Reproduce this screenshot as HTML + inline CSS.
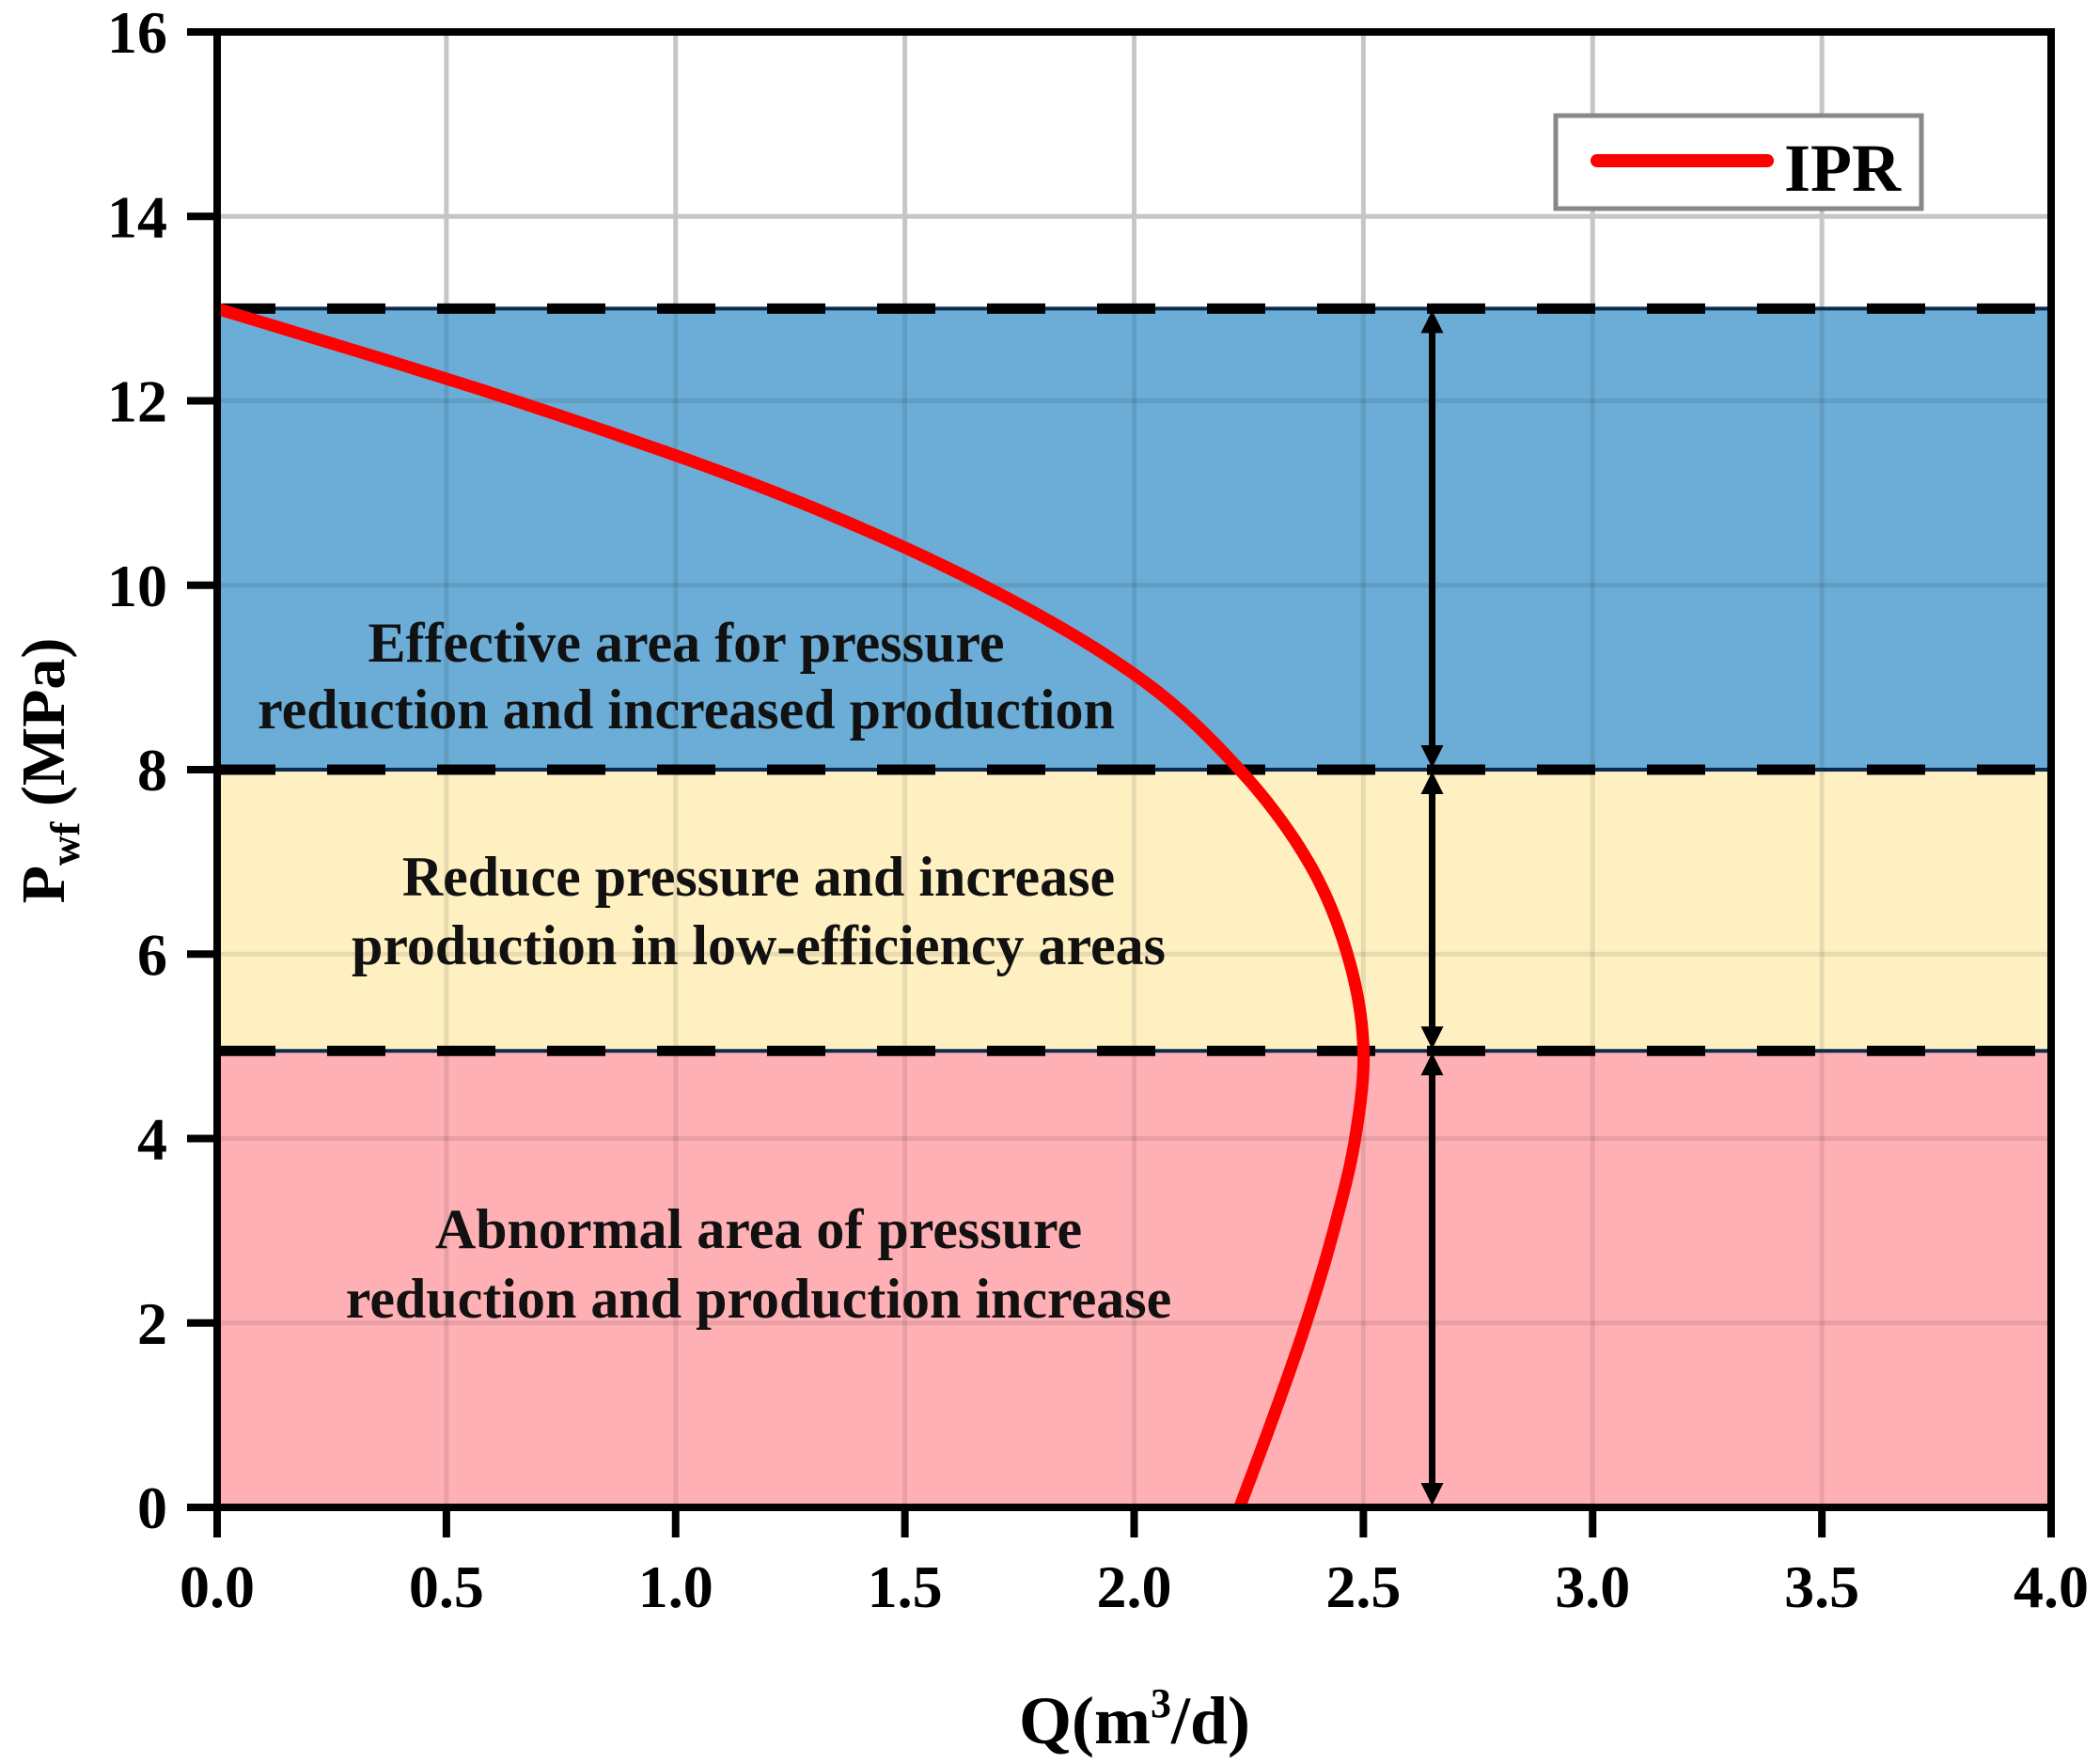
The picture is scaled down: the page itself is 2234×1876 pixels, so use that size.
<!DOCTYPE html>
<html><head><meta charset="utf-8"><style>
html,body{margin:0;padding:0;background:#fff;}
svg{display:block;font-family:"Liberation Serif",serif;font-weight:bold;}
</style></head><body>
<svg id="chart" width="2234" height="1876" viewBox="0 0 2234 1876"></svg>
<script>
const xTicks=[0,0.5,1.0,1.5,2.0,2.5,3.0,3.5,4.0];
const xTickLabels=["0.0","0.5","1.0","1.5","2.0","2.5","3.0","3.5","4.0"];
const yTicks=[0,2,4,6,8,10,12,14,16];
const yTickLabels=["0","2","4","6","8","10","12","14","16"];
const regionBounds=[0,4.95,8,13];
const regionColors=["#ffb0b5","#fff0c2","#6badd6"];
const regionNames=["abnormal-region","low-efficiency-region","effective-region"];
const iprP=[0,1,2,3,4,5,6,7,8,9,10,11,12,13];
const iprQ=[2.23,2.305,2.375,2.435,2.482,2.5,2.465,2.38,2.23,2.01,1.67,1.22,0.65,0];
const arrowQ=2.65;

const X0=231,X1=2182,Y0=1604,Y1=34;
const sx=v=>X0+(v-0)/(4-0)*(X1-X0);
const sy=v=>Y0-(v-0)/(16-0)*(Y0-Y1);
const NS="http://www.w3.org/2000/svg";
const svg=document.getElementById('chart');
function mk(tag,attrs,parent){const e=document.createElementNS(NS,tag);for(const k in attrs)e.setAttribute(k,attrs[k]);(parent||svg).appendChild(e);return e;}

// grid
for(const v of xTicks.slice(1,-1)){
  const g=mk('line',{x1:sx(v),x2:sx(v),y1:Y1,y2:Y0,stroke:"#c6c6c6","stroke-width":5});
  
  
}
for(const v of yTicks.slice(1,-1)){
  const g=mk('line',{x1:X0,x2:X1,y1:sy(v),y2:sy(v),stroke:"#c6c6c6","stroke-width":5});
  
  
}
// regions
for(let i=0;i<3;i++){
  const r=mk('rect',{x:X0,y:sy(regionBounds[i+1]),width:X1-X0,height:sy(regionBounds[i])-sy(regionBounds[i+1]),fill:regionColors[i]});
  
  
}
// faint grid over regions
const topBound=regionBounds[regionBounds.length-1];
for(const v of xTicks.slice(1,-1)){
  mk('line',{x1:sx(v),x2:sx(v),y1:sy(topBound),y2:Y0,stroke:"rgba(0,0,0,0.09)","stroke-width":5});
}
for(const v of yTicks.slice(1,-1)){
  if(v<topBound) mk('line',{x1:X0,x2:X1,y1:sy(v),y2:sy(v),stroke:"rgba(0,0,0,0.09)","stroke-width":5});
}
// boundary dashed lines
for(const v of regionBounds.slice(1)){
  mk('line',{x1:X0,x2:X1,y1:sy(v),y2:sy(v),stroke:"#0b2a50","stroke-width":4});
  const d=mk('line',{x1:X0,x2:X1,y1:sy(v),y2:sy(v),stroke:"#000","stroke-width":11,"stroke-dasharray":"62 55"});
  
  
}
// IPR curve
const n=iprP.length;
function cr(i,t,arr){const p0=arr[Math.max(i-1,0)],p1=arr[i],p2=arr[i+1],p3=arr[Math.min(i+2,n-1)];
  const t2=t*t,t3=t2*t;return 0.5*((2*p1)+(-p0+p2)*t+(2*p0-5*p1+4*p2-p3)*t2+(-p0+3*p1-3*p2+p3)*t3);}
let dstr="";
for(let i=0;i<n-1;i++){
  for(let s=0;s<=20;s++){
    if(i>0&&s===0)continue;
    const t=s/20;
    const q=cr(i,t,iprQ),p=cr(i,t,iprP);
    dstr+=(dstr?" L":"M")+sx(q).toFixed(1)+","+sy(p).toFixed(1);
  }
}
const curve=mk('path',{d:dstr,fill:"none",stroke:"#ff0000","stroke-width":13,"stroke-linejoin":"round"});


// arrows
const ax=sx(arrowQ);
for(let i=0;i<3;i++){
  const yb=sy(regionBounds[i]),yt=sy(regionBounds[i+1]);
  const g=mk('g',{});
  
  
  mk('line',{x1:ax,x2:ax,y1:yt+20,y2:yb-20,stroke:"#000","stroke-width":7},g);
  mk('polygon',{points:`${ax},${yt+2} ${ax-12},${yt+26} ${ax+12},${yt+26}`,fill:"#000"},g);
  mk('polygon',{points:`${ax},${yb-2} ${ax-12},${yb-26} ${ax+12},${yb-26}`,fill:"#000"},g);
}
// region texts
const texts=[["Effective area for pressure",730,704],["reduction and increased production",730,775],["Reduce pressure and increase",807,953],["production in low-efficiency areas",807,1026],["Abnormal area of pressure",807,1328],["reduction and production increase",807,1402]];
for(const t of texts){
  const e=mk('text',{x:t[1],y:t[2],"text-anchor":"middle","font-size":60,fill:"#111"});
  e.textContent=t[0];
  
  
}
// frame
const fr=mk('rect',{x:X0,y:Y1,width:X1-X0,height:Y0-Y1,fill:"none",stroke:"#000","stroke-width":8});


// ticks
xTicks.forEach((v,i)=>{
  mk('line',{x1:sx(v),x2:sx(v),y1:Y0,y2:Y0+32,stroke:"#000","stroke-width":8});
  const t=mk('text',{x:sx(v),y:1710,"text-anchor":"middle","font-size":64,fill:"#000"});
  t.textContent=xTickLabels[i];
  
  
});
yTicks.forEach((v,i)=>{
  mk('line',{x1:X0-32,x2:X0,y1:sy(v),y2:sy(v),stroke:"#000","stroke-width":8});
  const t=mk('text',{x:178,y:sy(v)+22,"text-anchor":"end","font-size":64,fill:"#000"});
  t.textContent=yTickLabels[i];
  
  
});
</script>
<svg style="position:absolute;left:0;top:0" width="2234" height="1876">
  <g>
    <rect x="1655" y="123" width="389" height="99" fill="#fff" stroke="#888" stroke-width="5"/>
    <line x1="1699" y1="171" x2="1880" y2="171" stroke="#ff0000" stroke-width="14" stroke-linecap="round"/>
    <text x="1898" y="203" font-family="Liberation Serif, serif" font-weight="bold" font-size="72" fill="#000">IPR</text>
  </g>
  <text x="1207" y="1855" text-anchor="middle" font-family="Liberation Serif, serif" font-weight="bold" font-size="72" fill="#000">Q(m<tspan dy="-28" font-size="44">3</tspan><tspan dy="28">/d)</tspan></text>
  <text transform="translate(68,820) rotate(-90)" text-anchor="middle" font-family="Liberation Serif, serif" font-weight="bold" font-size="66" fill="#000">P<tspan dy="16" font-size="44">wf</tspan><tspan dy="-16"> (MPa)</tspan></text>
</svg>
</body></html>
